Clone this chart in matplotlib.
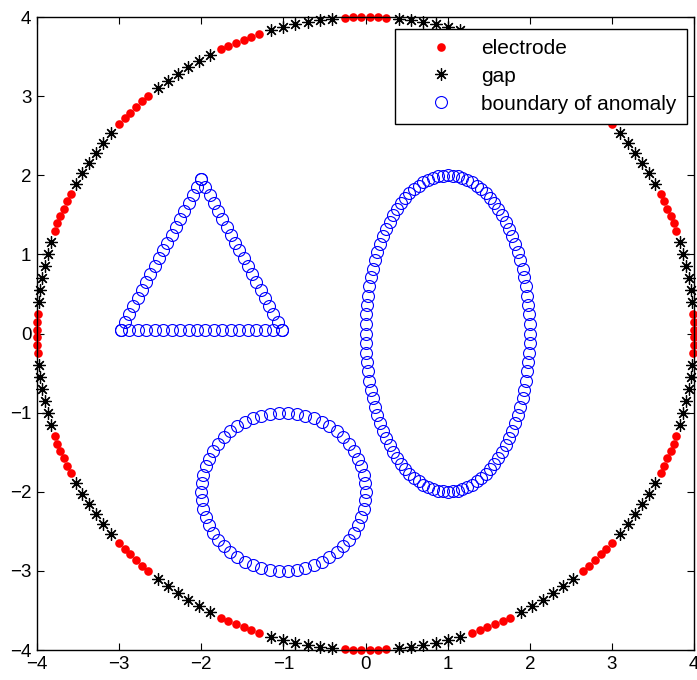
import numpy as np
import matplotlib
matplotlib.use("Agg")
import matplotlib.pyplot as plt

plt.rcParams["font.family"] = ["Liberation Sans", "DejaVu Sans"]

# ── Geometry ──────────────────────────────────────────────────────────────────
R_OUTER        = 4.0
N_ELECTRODES   = 16
PTS_ELECTRODE  = 6
PTS_GAP        = 6
ELECTRODE_HALF = 3.6          # half angular width of one electrode, degrees

tri_vertices = [(-2.98, 0.05), (-1.02, 0.05), (-2.0, 1.95)]
tri_pts_edge = 20

circ_center = (-1.0, -2.0)
circ_radius = 1.0
circ_pts    = 58

ell_center = (1.0, 0.0)
ell_axes   = (1.0, 2.0)
ell_pts    = 104

# ── Build boundary points ─────────────────────────────────────────────────────
step = 360.0 / N_ELECTRODES
el_theta, gap_theta = [], []
for k in range(N_ELECTRODES):
    c = k * step
    el_theta.extend(np.linspace(c - ELECTRODE_HALF, c + ELECTRODE_HALF, PTS_ELECTRODE))
    g0, g1 = c + ELECTRODE_HALF, c + step - ELECTRODE_HALF
    gap_theta.extend(np.linspace(g0, g1, PTS_GAP + 2)[1:-1])
el_theta = np.radians(el_theta)
gap_theta = np.radians(gap_theta)

ex, ey = R_OUTER * np.cos(el_theta), R_OUTER * np.sin(el_theta)
gx, gy = R_OUTER * np.cos(gap_theta), R_OUTER * np.sin(gap_theta)

# anomaly boundaries
tx, ty = [], []
for i in range(3):
    p, q = tri_vertices[i], tri_vertices[(i + 1) % 3]
    tx.extend(np.linspace(p[0], q[0], tri_pts_edge))
    ty.extend(np.linspace(p[1], q[1], tri_pts_edge))

t = np.linspace(0, 2 * np.pi, circ_pts, endpoint=False)
cx = circ_center[0] + circ_radius * np.cos(t)
cy = circ_center[1] + circ_radius * np.sin(t)

t = np.linspace(0, 2 * np.pi, ell_pts, endpoint=False)
lx = ell_center[0] + ell_axes[0] * np.cos(t)
ly = ell_center[1] + ell_axes[1] * np.sin(t)

ax_pts = np.concatenate([tx, cx, lx])
ay_pts = np.concatenate([ty, cy, ly])

# ── Plot ──────────────────────────────────────────────────────────────────────
fig = plt.figure(figsize=(6.97, 6.80), dpi=100, facecolor="white")
ax = fig.add_axes([0.0531, 0.0441, 0.9426, 0.9309])

ax.plot(ex, ey, "o", color="red", markersize=6.2, markeredgewidth=0,
        label="electrode", clip_on=False)
ax.plot(gx, gy, linestyle="none", marker=(8, 2, 0), color="black",
        markersize=8.8, markeredgewidth=0.9, label="gap", clip_on=False)
ax.plot(ax_pts, ay_pts, "o", markerfacecolor="none", markeredgecolor="blue",
        markersize=8.6, markeredgewidth=0.8, label="boundary of anomaly",
        clip_on=False)

ax.set_xlim(-4, 4)
ax.set_ylim(-4, 4)
ax.set_xticks(range(-4, 5))
ax.set_yticks(range(-4, 5))
ax.tick_params(direction="in", length=5, width=0.8, labelsize=13.5,
               top=True, right=True, pad=4)
for s in ax.spines.values():
    s.set_linewidth(1.0)

leg = ax.legend(loc="upper right", bbox_to_anchor=(0.989, 0.981),
                borderaxespad=0, fontsize=15, fancybox=False,
                edgecolor="black", framealpha=1, handlelength=3.4,
                labelspacing=0.42, borderpad=0.48, handletextpad=0.25)
leg.get_frame().set_linewidth(1.0)

plt.savefig("out.png", dpi=100)
